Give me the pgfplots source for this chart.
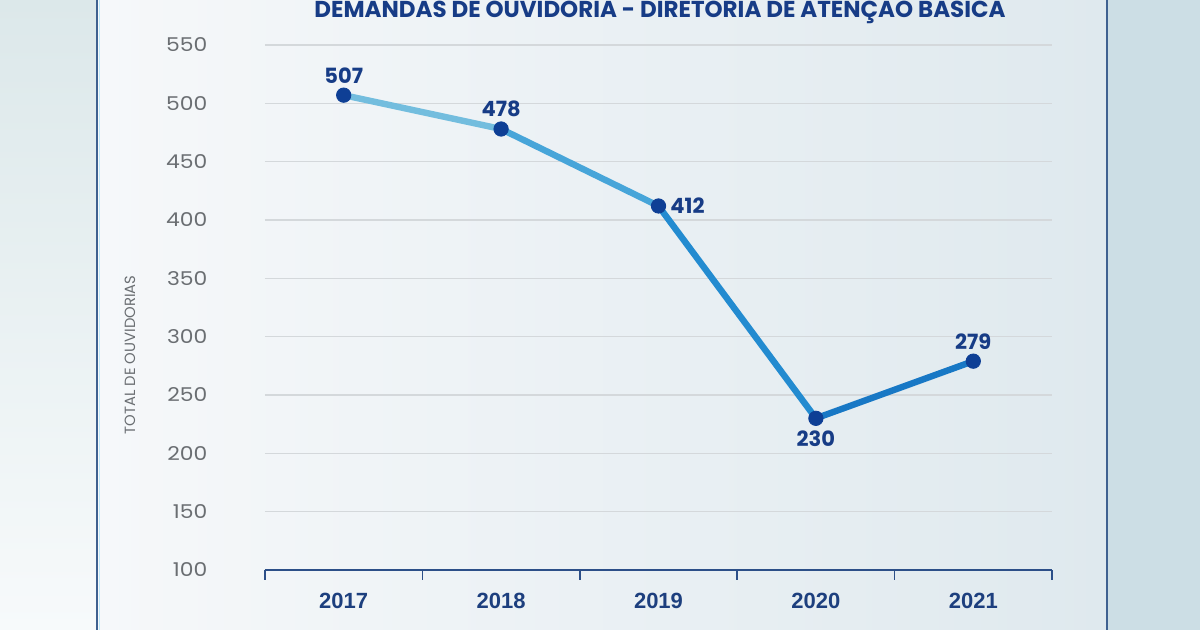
\documentclass[border=0pt]{standalone}
\usepackage{pgfplots}
\pgfplotsset{compat=1.18}
\usepackage{fontspec}
\setmainfont{Poppins}
\newfontfamily\yearfont{Liberation Sans}

\definecolor{navy}{HTML}{173C86}
\definecolor{yearnavy}{HTML}{1D3F7E}
\definecolor{dotblue}{HTML}{0E3F95}
\definecolor{axisblue}{HTML}{2C4F88}
\definecolor{frameblue}{HTML}{3F6190}
\definecolor{gridgray}{HTML}{D4D8DB}
\definecolor{tickgray}{HTML}{6A6E72}
\definecolor{sidetop}{HTML}{DCE8EA}
\definecolor{sidebot}{HTML}{F7FAFB}
\definecolor{panelleft}{HTML}{F6F8FA}
\definecolor{panelright}{HTML}{DFE9EE}
\definecolor{outerright}{HTML}{CCDEE5}

% yearly totals and the side on which each value is written
\pgfplotstableread{
x y ang
0 507 270
1 478 270
2 412 180
3 230 90
4 279 270
}\ouvidorias

\begin{document}
\begin{tikzpicture}
\path[use as bounding box] (0,0) rectangle (600pt,315pt);
\clip (0,0) rectangle (600pt,315pt);

% backdrop
\fill[top color=sidetop, bottom color=sidebot] (0,0) rectangle (48.5pt,315pt);
\fill[left color=panelleft, right color=panelright] (48.5pt,0) rectangle (553.5pt,315pt);
\fill[outerright] (553.5pt,0) rectangle (600pt,315pt);
\draw[frameblue, line width=1pt] (48.5pt,0) -- (48.5pt,315pt);
\draw[frameblue, line width=1pt] (553.5pt,0) -- (553.5pt,315pt);
\draw[cyan!25!white, line width=0.6pt] (49.6pt,0) -- (49.6pt,315pt);

% title
\node[anchor=base, font=\fontsize{11.5}{13}\selectfont\bfseries, text=navy]
  at (330pt,306pt) {DEMANDAS DE OUVIDORIA - DIRETORIA DE ATENÇÃO BÁSICA};

\begin{axis}[
  at={(132.5pt,30pt)}, anchor=south west,
  scale only axis, width=393.5pt, height=262.5pt,
  xmin=-0.5, xmax=4.5, ymin=100, ymax=550,
  clip=false,
  axis lines*=left,
  y axis line style={draw=none},
  x axis line style={axisblue, line width=1pt},
  /pgf/number format/assume math mode=true,
  ytick={100,150,...,550},
  ytick style={draw=none},
  yticklabel={\scalebox{1.15}[1]{\pgfmathprintnumber{\tick}}},
  yticklabel style={font=\fontsize{9.5}{11}\selectfont, text=tickgray, xshift=-21pt},
  ymajorgrids,
  grid style={gridgray, line width=0.75pt},
  xtick={0,...,4},
  xticklabels={2017,2018,2019,2020,2021},
  major x tick style={draw=none},
  minor xtick={-0.5,0.5,...,4.5},
  minor x tick style={axisblue, line width=0.8pt},
  minor tick length=5pt,
  tick align=outside,
  xticklabel style={font=\yearfont\bfseries\fontsize{11}{13}\selectfont, text=yearnavy, yshift=-4pt},
  ylabel={TOTAL DE OUVIDORIAS},
  ylabel style={at={(axis description cs:-0.1715,0.41)}, anchor=center, rotate=0,
    font=\fontsize{7.4}{8}\selectfont, text=tickgray},
  point meta min=0, point meta max=4,
  colormap={blueline}{rgb255=(132,198,224) rgb255=(98,180,221) rgb255=(44,150,213) rgb255=(26,128,202) rgb255=(22,112,192)},
]
% connecting line, one shade per segment
\addplot[mesh, point meta=x, line width=3.2pt, line cap=round, line join=round, no marks]
  table[x=x, y=y] {\ouvidorias};
% yearly points with their values
\addplot[only marks, mark=*, mark size=3.6pt, color=dotblue,
  point meta=explicit symbolic,
  visualization depends on={\thisrow{ang} \as \ang},
  nodes near coords,
  nodes near coords style={anchor=\ang, outer sep=5pt, inner sep=1pt,
    font=\fontsize{10.5}{12}\selectfont\bfseries, text=navy}]
  table[x=x, y=y, meta=y] {\ouvidorias};
\end{axis}
\end{tikzpicture}
\end{document}
